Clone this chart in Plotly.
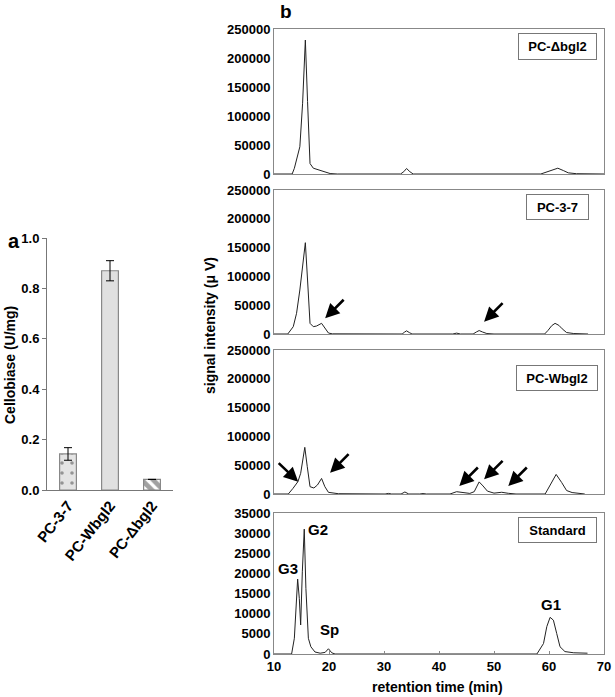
import plotly.graph_objects as go

# ---------------- data ----------------
strains = ["PC-3-7", "PC-Wbgl2", "PC-Δbgl2"]
cellobiase = [0.143, 0.870, 0.042]
cellobiase_err = [0.025, 0.040, 0.0]

t_dbgl2 = [10, 13.0, 13.3, 13.7, 14.1, 14.7, 15.2, 15.7, 16.1, 16.55, 17.15, 18.05, 18.95, 20.2, 21.5,
           33.0, 33.6, 34.1, 34.7, 35.3, 58.5, 59.5, 60.5, 61.6, 62.6, 63.5, 65.0, 70]
v_dbgl2 = [0, 0, 0, 9800, 24000, 47000, 122000, 231000, 125000, 18000, 10000, 7000, 4000, 800, 0,
           0, 4000, 9500, 4000, 0, 0, 3500, 7500, 10000, 6000, 2000, 500, 0]

t_pc37 = [10, 12.5, 13.5, 14.1, 14.7, 15.2, 15.7, 16.1, 16.55, 17.15, 17.75, 18.65, 19.25, 19.9, 20.6,
          30.2, 30.7, 31.2, 33.3, 33.7, 34.1, 34.6, 35.1, 42.5, 43.2, 43.9, 46.2, 46.8, 47.3, 47.9,
          48.7, 50.0, 59.2, 59.8, 60.5, 61.1, 61.8, 62.4, 63.2, 64.5, 67.1]
v_pc37 = [0, 0, 12700, 35900, 76400, 122700, 158500, 93700, 18500, 12700, 13900, 18500, 10400, 1700, 300,
          0, 800, 0, 0, 3000, 5500, 2500, 0, 0, 1500, 0, 0, 3500, 6000, 3500,
          800, 0, 0, 6000, 14500, 18500, 15000, 9000, 2500, 800, 0]

t_wbgl2 = [10, 12.6, 13.45, 14.35, 14.85, 15.2, 15.6, 16.05, 16.55, 17.25, 17.9, 18.65, 19.25, 19.9, 20.5,
           21.7, 30.2, 30.8, 31.4, 33.1, 33.8, 34.5, 36.5, 37.1, 37.7, 42.0, 43.2, 44.5, 45.6, 46.4,
           47.3, 48.0, 48.8, 50.0, 51.4, 52.6, 54.0, 59.3, 60.2, 61.3, 62.3, 63.2, 64.2, 66.5]
v_wbgl2 = [0, 0, 9800, 21400, 35900, 59000, 81000, 47400, 12700, 10400, 15600, 27000, 12700, 2900, 1700,
           500, 0, 1000, 0, 0, 3500, 0, 0, 800, 0, 0, 4000, 2000, 1000, 4000,
           21000, 14000, 5000, 1500, 3000, 1200, 0, 0, 16000, 34000, 20000, 6000, 2500, 0]

t_std = [10, 13.2, 13.7, 14.0, 14.3, 14.6, 14.85, 15.15, 15.5, 15.8, 16.25, 16.7, 17.45, 18.4, 19.3,
         19.9, 20.5, 21.1, 57.8, 59.0, 59.6, 60.2, 60.8, 61.4, 62.0, 62.9, 64.5, 67.0]
v_std = [0, 0, 3900, 12200, 18600, 13800, 7200, 20400, 31000, 16300, 3900, 1800, 500, 200, 400,
         1300, 300, 0, 0, 2600, 6800, 9100, 8400, 5100, 1800, 600, 300, 200]

panel_names = ["PC-Δbgl2", "PC-3-7", "PC-Wbgl2", "Standard"]
std_labels = ["G3", "G2", "Sp", "G1"]
std_label_t = [12.6, 18.05, 20.05, 60.36]
std_label_v = [21300, 30800, 6000, 12200]

# arrows: (axis index, head time, head value, dx, dy)
arrows = [(3, 19.3, 27300, 20, -20), (3, 48.2, 21400, 20, -20),
          (4, 14.4, 21400, -21, -20), (4, 20.2, 37000, 20, -20), (4, 43.7, 13900, 20, -20),
          (4, 48.2, 25500, 20, -20), (4, 52.6, 13900, 20, -20)]

# ---------------- layout helpers ----------------
W, H = 615, 697
FONT = "Liberation Sans, Arial, sans-serif"
def px(x): return x / W
def py(y): return 1 - y / H

fig = go.Figure()

# panel a bars
fig.add_trace(go.Bar(
    x=strains, y=cellobiase, width=0.4,
    error_y=dict(type="data", array=cellobiase_err, color="black", thickness=1, width=4),
    marker=dict(
        color=["#e4e4e4", "#e0e0e0", "white"],
        line=dict(color="#888888", width=1.2),
        pattern=dict(shape=[".", "", "\\"], fgcolor=["black", "black", "black"],
                     bgcolor=["#e4e4e4", "#e0e0e0", "white"], size=[10, 8, 8],
                     solidity=[0.1, 0.2, 0.6])),
    xaxis="x", yaxis="y", showlegend=False))

series = [(t_dbgl2, v_dbgl2), (t_pc37, v_pc37), (t_wbgl2, v_wbgl2), (t_std, v_std)]
for i, (t, v) in enumerate(series):
    fig.add_trace(go.Scatter(x=t, y=v, mode="lines", line=dict(color="#222", width=1),
                             xaxis=f"x{i+2}", yaxis=f"y{i+2}", showlegend=False))

tickfont = dict(family=FONT, size=13, color="black", weight="bold")

layout = dict(
    width=W, height=H, margin=dict(l=0, r=0, t=0, b=0, autoexpand=False), autosize=False,
    paper_bgcolor="white", plot_bgcolor="white",
    xaxis=dict(domain=[px(47), px(173)], type="category", range=[-0.5, 2.5], automargin=False,
               showline=True, linecolor="#777", linewidth=1, ticks="", tickangle=-52,
               tickfont=dict(family=FONT, size=15, color="black", weight="bold")),
    yaxis=dict(domain=[py(490), py(238)], range=[0, 1.0], dtick=0.2, tickformat=".1f",
               automargin=False,
               showline=True, linecolor="#777", linewidth=1, ticks="outside", ticklen=4,
               tickcolor="#777", showgrid=False, zeroline=False, tickfont=tickfont),
)

ydoms = [(174, 29), (334, 190), (494, 350), (654, 513)]
yranges = [[0, 250000]] * 3 + [[0, 35000]]
ydticks = [50000] * 3 + [5000]
for i in range(4):
    k = i + 2
    last = (i == 3)
    layout[f"xaxis{k}"] = dict(domain=[px(274), px(604)], range=[10, 70], dtick=10,
                               anchor=f"y{k}", showline=True, mirror=True, linecolor="#888",
                               linewidth=1, showgrid=False, zeroline=False, automargin=False,
                               showticklabels=last, ticks="inside" if last else "",
                               ticklen=3, tickcolor="#888", tickfont=tickfont)
    layout[f"yaxis{k}"] = dict(domain=[py(ydoms[i][0]), py(ydoms[i][1])], range=yranges[i],
                               dtick=ydticks[i], tickformat="d", anchor=f"x{k}",
                               showline=True, mirror=True, linecolor="#888", linewidth=1,
                               showgrid=False, zeroline=False, ticks="", automargin=False,
                               tickfont=tickfont)
fig.update_layout(**layout)

ann = []
def txt(x, y, s, size, angle=0):
    ann.append(dict(x=px(x), y=py(y), xref="paper", yref="paper", text=s, showarrow=False,
                    textangle=angle, xanchor="center", yanchor="middle",
                    font=dict(family=FONT, size=size, color="black", weight="bold")))

txt(13.5, 241, "a", 20)
txt(286, 12, "b", 19)
txt(10, 365, "Cellobiase (U/mg)", 14, -90)
txt(210, 326, "signal intensity (μ V)", 14, -90)
txt(437, 687, "retention time (min)", 14)

box_t = [61.55, 61.58, 61.45, 61.55]
box_v = [219800, 220500, 201400, 30780]
box_w = [79, 63, 82, 79]
box_h = [27, 26, 26, 26]
for i, name in enumerate(panel_names):
    k = i + 2
    ann.append(dict(x=box_t[i], y=box_v[i], xref=f"x{k}", yref=f"y{k}", text=name,
                    showarrow=False, xanchor="center", yanchor="middle",
                    width=box_w[i] - 2, height=box_h[i] - 2, borderpad=0,
                    bordercolor="#777", borderwidth=1, bgcolor="white",
                    font=dict(family=FONT, size=13, color="black", weight="bold")))

for lab, t, v in zip(std_labels, std_label_t, std_label_v):
    ann.append(dict(x=t, y=v, xref="x5", yref="y5", text=lab, showarrow=False,
                    font=dict(family=FONT, size=15, color="black", weight="bold")))

for k, t, v, dx, dy in arrows:
    ann.append(dict(x=t, y=v, xref=f"x{k}", yref=f"y{k}", ax=dx, ay=dy, text="",
                    showarrow=True, arrowhead=2, arrowsize=1.1, arrowwidth=2.6,
                    arrowcolor="black", standoff=0))

fig.update_layout(annotations=ann)
fig.write_html("out.html", config={"displayModeBar": False},
               post_script="document.body.style.margin='0';document.body.style.overflow='hidden';")
